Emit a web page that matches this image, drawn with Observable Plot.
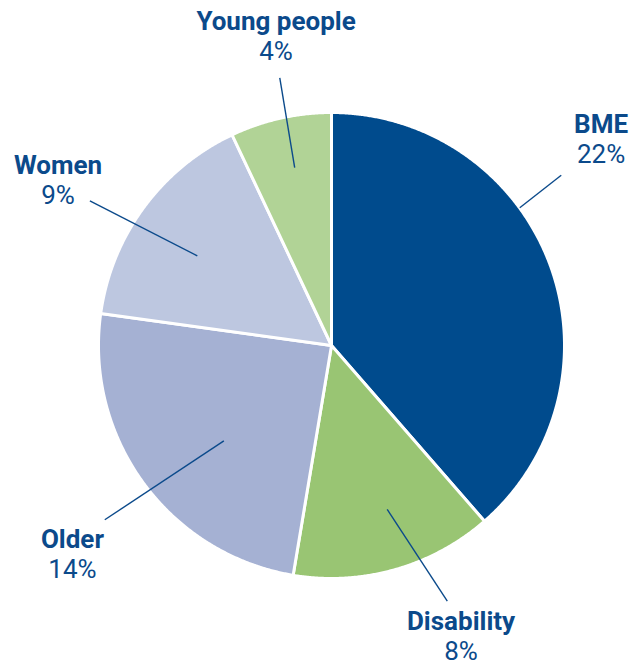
<!DOCTYPE html>
<html>
<head>
<meta charset="utf-8">
<script src="https://cdn.jsdelivr.net/npm/d3@7"></script>
<script src="https://cdn.jsdelivr.net/npm/@observablehq/plot@0.6"></script>
<style>
  html, body { margin: 0; padding: 0; background: #fff; }
  #chart svg { display: block; }
</style>
</head>
<body>
<div id="chart"></div>
<script>
// ---- data ----
const categories = ["BME", "Disability", "Older", "Women", "Young people"];
const values = [22, 8, 14, 9, 4];
const pctLabels = ["22%", "8%", "14%", "9%", "4%"];

// ---- styles / layout (not data) ----
const colors = ["#004b8d", "#99c573", "#a5b1d3", "#bdc7e0", "#b1d396"];
const textColor = "#0b4a8b";
const FONT = "Roboto, 'DejaVu Sans', sans-serif";
// label layout in pie-radius units (x right, y up)
const labelLayout = {
  "BME":          {tx: 1.157, ty: 0.911,  lx1: 0.986,  ly1: 0.731,  lx2: 0.808,  ly2: 0.591},
  "Disability":   {tx: 0.556, ty: -1.223, lx1: 0.497,  ly1: -1.097, lx2: 0.239,  ly2: -0.703},
  "Older":        {tx: -1.112, ty: -0.867, lx1: -0.973, ly1: -0.748, lx2: -0.462, ly2: -0.409},
  "Women":        {tx: -1.174, ty: 0.734, lx1: -1.037, ly1: 0.621,  lx2: -0.576, ly2: 0.385},
  "Young people": {tx: -0.238, ty: 1.352, lx1: -0.222, ly1: 1.149,  lx2: -0.158, ly2: 0.763}
};

// ---- pie geometry via d3.pie ----
const arcs = d3.pie().sort(null).value(d => d.value)(
  categories.map((c, i) => ({category: c, value: values[i], pct: pctLabels[i]}))
);
const slicePts = [];
arcs.forEach(a => {
  const c = a.data.category;
  slicePts.push({category: c, x: 0, y: 0});
  const n = Math.max(2, Math.ceil((a.endAngle - a.startAngle) / 0.005));
  for (let k = 0; k <= n; k++) {
    const t = a.startAngle + (a.endAngle - a.startAngle) * k / n;
    slicePts.push({category: c, x: Math.sin(t), y: Math.cos(t)});
  }
  slicePts.push({category: c, x: 0, y: 0});
});

const labels = arcs.map(a => ({category: a.data.category, pct: a.data.pct, ...labelLayout[a.data.category]}));

const chart = Plot.plot({
  width: 642,
  height: 666,
  marginLeft: 98,
  marginRight: 78,
  marginTop: 112,
  marginBottom: 88,
  x: {domain: [-1, 1], axis: null},
  y: {domain: [-1, 1], axis: null},
  color: {domain: categories, range: colors},
  style: {background: "#fff", overflow: "visible"},
  marks: [
    Plot.line(slicePts, {
      x: "x", y: "y", z: "category", fill: "category",
      stroke: "white", strokeWidth: 3, strokeLinejoin: "round"
    }),
    Plot.link(labels, {
      x1: "lx1", y1: "ly1", x2: "lx2", y2: "ly2",
      stroke: textColor, strokeWidth: 1.4
    }),
    Plot.text(labels, {
      x: "tx", y: "ty", text: "category", lineAnchor: "bottom",
      fill: textColor, fontSize: 26, fontWeight: "bold", fontFamily: FONT
    }),
    Plot.text(labels, {
      x: "tx", y: "ty", dy: 30, text: "pct", lineAnchor: "bottom",
      fill: textColor, fontSize: 26, fontWeight: "normal", fontFamily: FONT
    })
  ]
});
document.getElementById("chart").appendChild(chart);
</script>
</body>
</html>
